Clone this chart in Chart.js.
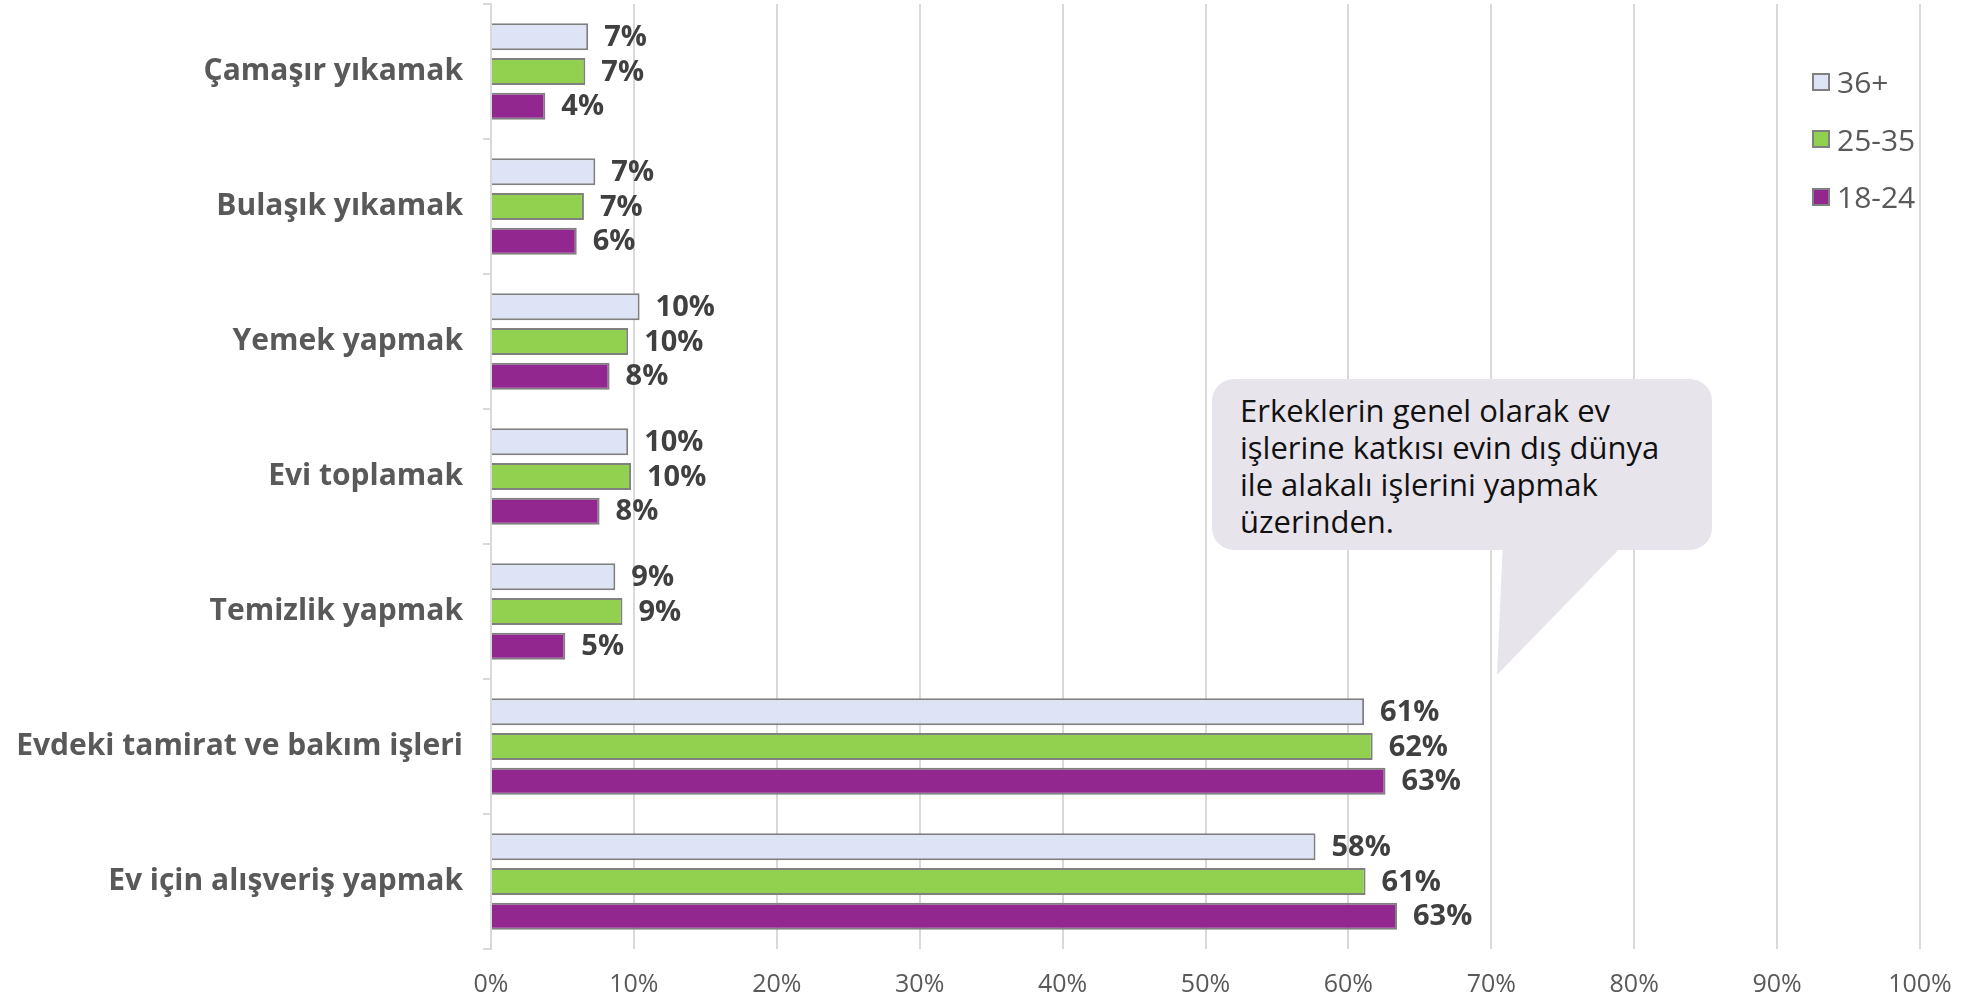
<!DOCTYPE html>
<html>
<head>
<meta charset="utf-8">
<script src="https://cdn.jsdelivr.net/npm/chart.js@4"></script>
<style>
  body { margin: 0; background: #fff; overflow: hidden; }
  #wrap { position: relative; width: 1988px; height: 1000px; }
  #legend { position: absolute; left: 1812px; top: 53px; font: 30px "Open Sans", sans-serif; color: #595959; }
  .item { height: 57.5px; display: flex; align-items: center; }
  .item span.box { width: 14px; height: 14px; border: 2px solid #808080; margin-right: 7px; }
  #note { position: absolute; left: 1212px; top: 379px; width: 472px; height: 158px; padding: 13px 0 0 28px;
          background: #e8e4ec; border-radius: 22px; font: 31px/37px "Open Sans", sans-serif; color: #111; }
  #tail { position: absolute; left: 1490px; top: 540px; }
</style>
</head>
<body>
<div id="wrap">
  <canvas id="chart" width="1988" height="1000"></canvas>
  <svg id="tail" width="150" height="140"><polygon points="13,0 138,0 7,135" fill="#e8e4ec"/></svg>
  <div id="note">Erkeklerin genel olarak ev<br>işlerine katkısı evin dış dünya<br>ile alakalı işlerini yapmak<br>üzerinden.</div>
  <div id="legend"></div>
</div>
<script>
const categories = ["Çamaşır yıkamak", "Bulaşık yıkamak", "Yemek yapmak", "Evi toplamak",
                    "Temizlik yapmak", "Evdeki tamirat ve bakım işleri", "Ev için alışveriş yapmak"];
const seriesNames = ["36+", "25-35", "18-24"];
const values36 = [6.8, 7.3, 10.4, 9.6, 8.7, 61.1, 57.7];
const values2535 = [6.6, 6.5, 9.6, 9.8, 9.2, 61.7, 61.2];
const values1824 = [3.8, 6.0, 8.3, 7.6, 5.2, 62.6, 63.4];
const xTicks = [0, 10, 20, 30, 40, 50, 60, 70, 80, 90, 100];

Chart.defaults.font.family = "'Open Sans', sans-serif";

// value labels at the end of each bar
const barLabels = {
  id: "barLabels",
  afterDatasetsDraw(chart) {
    const ctx = chart.ctx;
    ctx.save();
    ctx.font = "bold 29px 'Open Sans', sans-serif";
    ctx.fillStyle = "#404040";
    ctx.textAlign = "left";
    ctx.textBaseline = "middle";
    chart.data.datasets.forEach((ds, i) => {
      chart.getDatasetMeta(i).data.forEach((bar, j) => {
        ctx.fillText(Math.round(ds.data[j]) + "%", bar.x + 16, bar.y + 1);
      });
    });
    ctx.restore();
  }
};

const chart = new Chart(document.getElementById("chart"), {
  type: "bar",
  data: {
    labels: categories,
    datasets: [
      { label: seriesNames[0], data: values36, backgroundColor: "#dee4f6" },
      { label: seriesNames[1], data: values2535, backgroundColor: "#92d050" },
      { label: seriesNames[2], data: values1824, backgroundColor: "#92278f" }
    ]
  },
  options: {
    indexAxis: "y",
    responsive: false,
    animation: false,
    devicePixelRatio: 1,
    layout: { padding: { top: 4, right: 68, left: 0, bottom: 0 } },
    datasets: {
      bar: { borderColor: "#808080", borderWidth: 2, categoryPercentage: 0.77, barPercentage: 0.78 }
    },
    plugins: { legend: { display: false }, tooltip: { enabled: false } },
    scales: {
      x: {
        min: 0, max: 100,
        afterFit: s => { s.height = 51; },
        afterBuildTicks: s => { s.ticks = xTicks.map(v => ({ value: v })); },
        ticks: { callback: v => v + "%", color: "#595959", font: { size: 25 }, padding: 21 },
        grid: { color: "#d9d9d9", lineWidth: 2, drawTicks: false },
        border: { display: false }
      },
      y: {
        afterFit: s => { s.width = 491; s.paddingTop = 0; s.paddingBottom = 0; },
        ticks: { color: "#595959", font: { size: 30, weight: "bold" }, padding: 20 },
        grid: { drawOnChartArea: false, color: "#d9d9d9", lineWidth: 2, tickLength: 8, offset: true },
        border: { color: "#d9d9d9", width: 2 }
      }
    }
  },
  plugins: [barLabels]
});

const legend = document.getElementById("legend");
chart.data.datasets.forEach(ds => {
  legend.innerHTML += `<div class="item"><span class="box" style="background:${ds.backgroundColor}"></span>${ds.label}</div>`;
});
</script>
</body>
</html>
